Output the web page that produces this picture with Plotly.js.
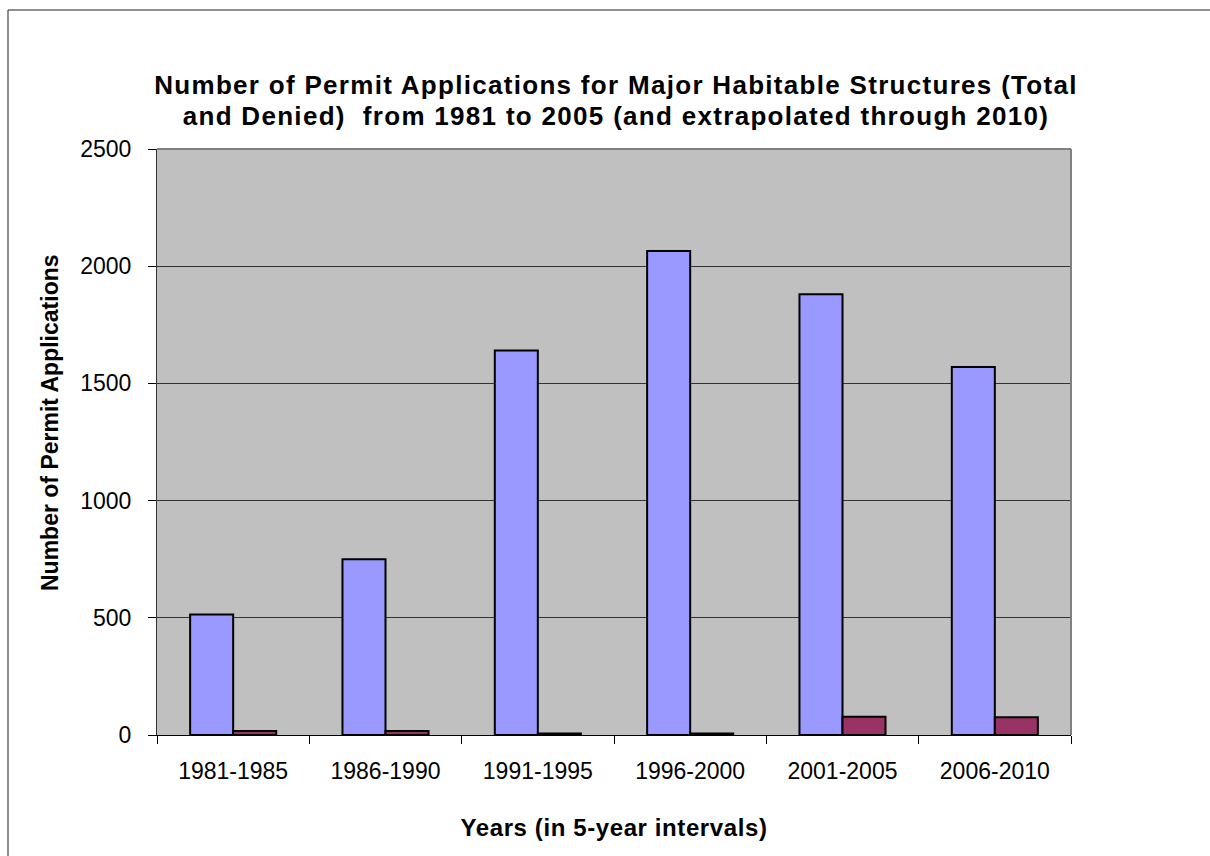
<!DOCTYPE html>
<html>
<head>
<meta charset="utf-8">
<script src="https://cdn.plot.ly/plotly-3.0.1.min.js"></script>
<style>
  html, body { margin: 0; padding: 0; background: #ffffff; }
  #chart { width: 1210px; height: 856px; }
  /* the original chart's bold titles are rendered slightly wider than Arial */
  #chart .gtitle { letter-spacing: 1.3px; }
  #chart g.annotation[data-index="0"] text { letter-spacing: 1.3px; }
  #chart .xtitle { letter-spacing: 0.6px; }
</style>
</head>
<body>
<div id="chart"></div>
<script>
// ---- Data ----
const periods = ["1981-1985", "1986-1990", "1991-1995", "1996-2000", "2001-2005", "2006-2010"];
const totalApplications = [514, 750, 1640, 2065, 1880, 1570];
const deniedApplications = [17, 17, 6, 6, 78, 76];
const yTickValues = [0, 500, 1000, 1500, 2000, 2500];

const titleLine1 = "Number of Permit Applications for Major Habitable Structures (Total";
const titleLine2 = "and Denied)\u00A0 from 1981 to 2005 (and extrapolated through 2010)";
const xTitle = "Years (in 5-year intervals)";
const yTitle = "Number of Permit Applications";

const FONT = "Liberation Sans, Arial, Helvetica, sans-serif";

// plot-area geometry in pixels (used only to convert layout positions to paper units)
const W = 1210, H = 856;
const M = { l: 157, r: 139, t: 149, b: 121 };
const PW = W - M.l - M.r, PH = H - M.t - M.b;
const px2x = (px) => (px - M.l) / PW;
const px2y = (py) => (H - M.b - py) / PH;

const traces = [
  {
    type: "bar",
    name: "Total",
    x: periods,
    y: totalApplications,
    marker: { color: "#9999FF", line: { color: "#000000", width: 2 } },
    hoverinfo: "x+y"
  },
  {
    type: "bar",
    name: "Denied",
    x: periods,
    y: deniedApplications,
    marker: { color: "#993366", line: { color: "#000000", width: 2 } },
    hoverinfo: "x+y"
  }
];

const titleFont = { family: FONT, size: 26, color: "#000000", weight: "bold" };

const layout = {
  width: W,
  height: H,
  margin: { l: M.l, r: M.r, t: M.t, b: M.b, pad: 0 },
  paper_bgcolor: "#FFFFFF",
  plot_bgcolor: "#C0C0C0",
  showlegend: false,
  barmode: "group",
  bargap: 0.435,
  bargroupgap: 0,
  font: { family: FONT, color: "#000000" },
  title: {
    text: titleLine1,
    font: titleFont,
    x: 616 / W,
    xref: "container",
    xanchor: "center",
    y: 1 - 85 / H,
    yref: "container",
    yanchor: "middle"
  },
  annotations: [
    {
      text: titleLine2,
      font: titleFont,
      xref: "paper", yref: "paper",
      x: px2x(616), y: px2y(116),
      xanchor: "center", yanchor: "middle",
      showarrow: false
    },
    {
      text: yTitle,
      font: { family: FONT, size: 23, color: "#000000", weight: "bold" },
      textangle: -90,
      xref: "paper", yref: "paper",
      x: px2x(50), y: px2y(423),
      xanchor: "center", yanchor: "middle",
      showarrow: false
    }
  ],
  xaxis: {
    type: "category",
    tickson: "boundaries",
    ticks: "outside",
    ticklen: 8,
    tickwidth: 1,
    tickcolor: "#000000",
    showline: true,
    linecolor: "#000000",
    linewidth: 1,
    showgrid: false,
    zeroline: false,
    tickfont: { family: FONT, size: 23, color: "#000000" },
    ticklabelstandoff: 15,
    title: {
      text: xTitle,
      font: { family: FONT, size: 24, color: "#000000", weight: "bold" },
      standoff: 36
    }
  },
  yaxis: {
    range: [0, 2500],
    tickvals: yTickValues,
    ticks: "outside",
    ticklen: 8,
    tickwidth: 1,
    tickcolor: "#000000",
    showline: true,
    linecolor: "#333333",
    linewidth: 1,
    showgrid: true,
    gridcolor: "#333333",
    gridwidth: 1,
    zeroline: false,
    tickfont: { family: FONT, size: 23, color: "#000000" },
    ticklabelstandoff: 12
  },
  shapes: [
    // plot-area border (top and right, grey)
    { type: "line", xref: "paper", yref: "paper", x0: 0, x1: 1, y0: 1, y1: 1, line: { color: "#808080", width: 2 } },
    { type: "line", xref: "paper", yref: "paper", x0: 1, x1: 1, y0: 0, y1: 1, line: { color: "#808080", width: 2 } },
    // outer chart frame (left and top edges visible)
    { type: "line", xref: "paper", yref: "paper", x0: px2x(8), x1: px2x(1300), y0: px2y(10), y1: px2y(10), line: { color: "#202020", width: 1 } },
    { type: "line", xref: "paper", yref: "paper", x0: px2x(8), x1: px2x(8), y0: px2y(10), y1: px2y(950), line: { color: "#202020", width: 1 } }
  ]
};

Plotly.newPlot("chart", traces, layout, { displayModeBar: false, staticPlot: true });
</script>
</body>
</html>
